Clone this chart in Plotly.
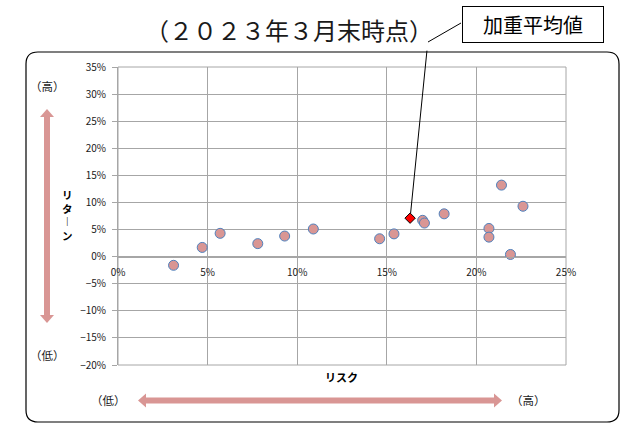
import plotly.graph_objects as go

# Risk / return of each asset (percent)
risk = [3.1, 4.7, 5.7, 7.8, 9.3, 10.9, 14.6, 15.4, 17.0, 17.1, 18.2, 20.7, 20.7, 21.4, 22.6, 21.9]
ret = [-1.6, 1.7, 4.3, 2.4, 3.8, 5.1, 3.3, 4.2, 6.7, 6.2, 7.9, 5.2, 3.6, 13.2, 9.3, 0.4]

# Weighted average point
avg_risk = [16.3]
avg_ret = [7.1]

x_range = [0, 25]
y_range = [-20, 35]

W, H = 627, 423
L, R, T, B = 118, 61, 67, 58
PW, PH = W - L - R, H - T - B


def px(x):
    return (x - L) / PW


def py(y):
    return (H - B - y) / PH


fig = go.Figure()

fig.add_trace(go.Scatter(
    x=risk, y=ret, mode="markers",
    marker=dict(symbol="circle", size=10, color="#D99694",
                line=dict(color="#4F81BD", width=1)),
    hoverinfo="x+y", showlegend=False,
))
fig.add_trace(go.Scatter(
    x=avg_risk, y=avg_ret, mode="markers",
    marker=dict(symbol="diamond", size=8, color="#FF0000",
                line=dict(color="#000000", width=1)),
    showlegend=False,
))

grid = "#A6A6A6"
cjk = "Noto Sans CJK JP"

fig.update_layout(
    width=W, height=H,
    margin=dict(l=L, r=R, t=T, b=B),
    paper_bgcolor="white", plot_bgcolor="white",
    font=dict(family=cjk, size=10, color="#1a1a1a"),
    xaxis=dict(
        range=x_range, dtick=5, ticksuffix="%",
        showgrid=True, gridcolor=grid, gridwidth=1,
        zeroline=False, showline=True, linecolor=grid,
        anchor="free", position=(0 - y_range[0]) / (y_range[1] - y_range[0]),
        ticks="", ticklabelstandoff=6,
        tickfont=dict(size=10, color="#1a1a1a"),
        fixedrange=True,
    ),
    yaxis=dict(
        range=y_range, dtick=5, ticksuffix="%",
        showgrid=True, gridcolor=grid, gridwidth=1,
        zeroline=True, zerolinecolor=grid, zerolinewidth=1,
        showline=True, linecolor=grid,
        ticks="outside", ticklen=5, tickcolor=grid, ticklabelstandoff=4,
        tickfont=dict(size=10, color="#1a1a1a"),
        fixedrange=True,
    ),
)

shapes = []

# plot-area frame
shapes.append(dict(type="rect", xref="paper", yref="paper", x0=0, x1=1, y0=0, y1=1,
                   line=dict(color=grid, width=1), layer="below"))

# rounded outer frame
x0, x1, y0, y1, r = 26, 619, 52, 422, 12
path = (
    f"M {px(x0 + r)},{py(y0)} L {px(x1 - r)},{py(y0)} "
    f"Q {px(x1)},{py(y0)} {px(x1)},{py(y0 + r)} "
    f"L {px(x1)},{py(y1 - r)} Q {px(x1)},{py(y1)} {px(x1 - r)},{py(y1)} "
    f"L {px(x0 + r)},{py(y1)} Q {px(x0)},{py(y1)} {px(x0)},{py(y1 - r)} "
    f"L {px(x0)},{py(y0 + r)} Q {px(x0)},{py(y0)} {px(x0 + r)},{py(y0)} Z"
)
shapes.append(dict(type="path", xref="paper", yref="paper", path=path,
                   line=dict(color="#000000", width=1.2)))

arrow_col = "#D99694"


def poly(pts):
    return "M " + " L ".join(f"{px(a)},{py(b)}" for a, b in pts) + " Z"


# vertical double arrow (return)
ax_c = 47
vert = [(ax_c, 109), (ax_c + 7, 117), (ax_c + 3, 117), (ax_c + 3, 315),
        (ax_c + 7, 315), (ax_c, 323), (ax_c - 7, 315), (ax_c - 3, 315),
        (ax_c - 3, 117), (ax_c - 7, 117)]
shapes.append(dict(type="path", xref="paper", yref="paper", path=poly(vert),
                   fillcolor=arrow_col, line=dict(width=0)))

# horizontal double arrow (risk)
ay_c = 400.5
horiz = [(138, ay_c), (146, ay_c - 7), (146, ay_c - 3), (494, ay_c - 3),
         (494, ay_c - 7), (502, ay_c), (494, ay_c + 7), (494, ay_c + 3),
         (146, ay_c + 3), (146, ay_c + 7)]
shapes.append(dict(type="path", xref="paper", yref="paper", path=poly(horiz),
                   fillcolor=arrow_col, line=dict(width=0)))

# callout leader (upper segment)
shapes.append(dict(type="line", xref="paper", yref="paper",
                   x0=px(461), y0=py(23), x1=px(428), y1=py(42),
                   line=dict(color="#000000", width=1)))

fig.update_layout(shapes=shapes)

ann = []
# callout leader (lower segment, to the weighted average point)
ann.append(dict(x=avg_risk[0], y=avg_ret[0], xref="x", yref="y", text="",
                showarrow=True, arrowhead=0, arrowwidth=1, arrowcolor="#000000",
                axref="pixel", ayref="pixel", ax=17, ay=-169, standoff=5))
# callout box
ann.append(dict(x=px(533), y=py(24.5), xref="paper", yref="paper",
                text="加重平均値", showarrow=False,
                font=dict(family=cjk, size=20, color="#000000"),
                bordercolor="#000000", borderwidth=1, bgcolor="white",
                width=136, height=31, borderpad=2,
                xanchor="center", yanchor="middle"))
# heading
ann.append(dict(x=px(289), y=py(30), xref="paper", yref="paper",
                text="（２０２３年３月末時点）", showarrow=False,
                font=dict(family=cjk, size=24, color="#1a1a1a"),
                xanchor="center", yanchor="middle"))
# axis titles
ann.append(dict(x=px(341), y=py(377), xref="paper", yref="paper",
                text="<b>リスク</b>", showarrow=False,
                font=dict(family=cjk, size=11, color="#000000"),
                xanchor="center", yanchor="middle"))
ann.append(dict(x=px(67), y=py(215), xref="paper", yref="paper",
                text="<b>リ<br>タ<br>︱<br>ン</b>", showarrow=False,
                font=dict(family=cjk, size=10.5, color="#000000"),
                xanchor="center", yanchor="middle"))
# high / low markers
for (xx, yy, t) in [(47, 86, "（高）"), (47, 355, "（低）"),
                    (108, 400, "（低）"), (528, 400, "（高）")]:
    ann.append(dict(x=px(xx), y=py(yy), xref="paper", yref="paper",
                    text=t, showarrow=False,
                    font=dict(family=cjk, size=11.5, color="#1a1a1a"),
                    xanchor="center", yanchor="middle"))

fig.update_layout(annotations=ann)

fig.write_html("out.html")
